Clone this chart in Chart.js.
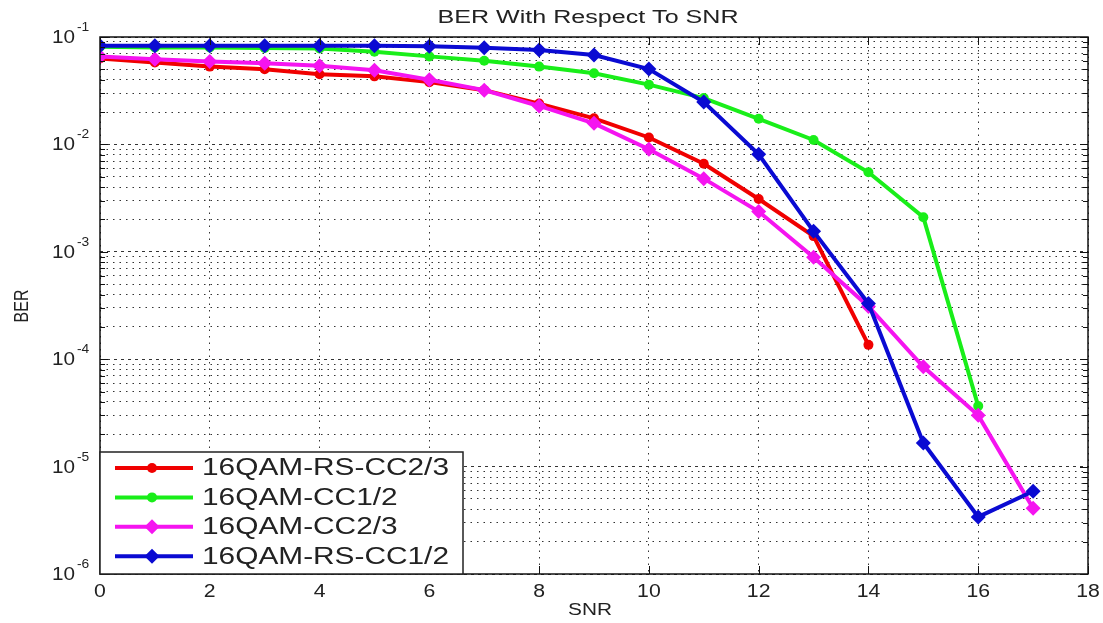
<!DOCTYPE html>
<html>
<head>
<meta charset="utf-8">
<title>BER With Respect To SNR</title>
<script src="https://cdn.jsdelivr.net/npm/chart.js"></script>
<style>
  body { margin: 0; background: #fff; }
  canvas { display: block; }
</style>
</head>
<body>
<canvas id="chart" width="1103" height="623"></canvas>
<script>
// values
const snr = [0, 1, 2, 3, 4, 5, 6, 7, 8, 9, 10, 11, 12, 13, 14, 15, 16, 17];

const rsCC23 = [0.063, 0.058, 0.053, 0.050, 0.045, 0.043, 0.038, 0.032, 0.024, 0.0175, 0.0116, 0.0066, 0.0031, 0.0014, 0.000136];
const cc12 = [0.081, 0.080, 0.080, 0.079, 0.078, 0.073, 0.066, 0.060, 0.053, 0.046, 0.036, 0.027, 0.0173, 0.011, 0.0055, 0.0021, 0.0000366];
const cc23 = [0.066, 0.062, 0.059, 0.057, 0.054, 0.049, 0.040, 0.032, 0.0228, 0.0157, 0.009, 0.0048, 0.00237, 0.00089, 0.00031, 0.000085, 0.00003, 0.0000041];
const rsCC12 = [0.083, 0.083, 0.083, 0.083, 0.083, 0.083, 0.082, 0.0795, 0.0757, 0.068, 0.0503, 0.0248, 0.0081, 0.00155, 0.00033, 0.0000166, 0.0000034, 0.0000059];

const seriesNames = ['16QAM-RS-CC2/3', '16QAM-CC1/2', '16QAM-CC2/3', '16QAM-RS-CC1/2'];

const xTicks = [0, 2, 4, 6, 8, 10, 12, 14, 16, 18];
const yExponents = [-1, -2, -3, -4, -5, -6];

const FONT = '"Liberation Sans", Arial, sans-serif';

function toPoints(values) {
    return values.map((v, i) => ({ x: snr[i], y: v }));
}

// every 1..9 x 10^e value between 1e-6 and 1e-1 (minor grid like matlab)
function logGridTicks() {
    const t = [];
    for (let e = -6; e < -1; e++) {
        for (let m = 1; m < 10; m++) t.push({ value: m * Math.pow(10, e) });
    }
    t.push({ value: 0.1 });
    return t;
}

function isDecade(v) {
    const l = Math.log10(v);
    return Math.abs(l - Math.round(l)) < 1e-9;
}

function stretchText(ctx, text, x, y, sx, align) {
    ctx.save();
    ctx.translate(x, y);
    ctx.scale(sx, 1);
    ctx.textAlign = align;
    ctx.fillText(text, 0, 0);
    ctx.restore();
}

function drawMarker(ctx, style, r, x, y, color) {
    ctx.fillStyle = color;
    ctx.beginPath();
    if (style === 'circle') {
        ctx.arc(x, y, r, 0, Math.PI * 2);
    } else {
        ctx.moveTo(x, y - r);
        ctx.lineTo(x + r, y);
        ctx.lineTo(x, y + r);
        ctx.lineTo(x - r, y);
        ctx.closePath();
    }
    ctx.fill();
}

const matlabLook = {
    id: 'matlabLook',
    beforeDraw(chart) {
        const ctx = chart.ctx;
        ctx.save();
        ctx.fillStyle = '#fff';
        ctx.fillRect(0, 0, chart.width, chart.height);
        ctx.restore();
    },
    afterDraw(chart) {
        const ctx = chart.ctx;
        const a = chart.chartArea;
        const xs = chart.scales.x;
        const ys = chart.scales.y;

        ctx.save();
        ctx.strokeStyle = '#111';
        ctx.lineWidth = 1;

        // inner tick marks
        ctx.beginPath();
        xTicks.forEach(t => {
            const px = Math.round(xs.getPixelForValue(t)) + 0.5;
            ctx.moveTo(px, a.bottom); ctx.lineTo(px, a.bottom - 8);
            ctx.moveTo(px, a.top); ctx.lineTo(px, a.top + 8);
        });
        ys.ticks.forEach(t => {
            const py = Math.round(ys.getPixelForValue(t.value)) + 0.5;
            const len = isDecade(t.value) ? 8 : 5;
            ctx.moveTo(a.left, py); ctx.lineTo(a.left + len, py);
            ctx.moveTo(a.right, py); ctx.lineTo(a.right - len, py);
        });
        ctx.stroke();

        // frame
        ctx.lineWidth = 1.5;
        ctx.strokeRect(a.left, a.top, a.right - a.left, a.bottom - a.top);

        ctx.fillStyle = '#222';
        ctx.textBaseline = 'alphabetic';

        // x tick labels
        ctx.font = '18px ' + FONT;
        xTicks.forEach(t => {
            stretchText(ctx, String(t), xs.getPixelForValue(t), a.bottom + 23, 1.18, 'center');
        });

        // y tick labels 10^e
        yExponents.forEach(e => {
            const py = ys.getPixelForValue(Math.pow(10, e));
            ctx.font = '18px ' + FONT;
            stretchText(ctx, '10', 75, py + 6, 1.15, 'right');
            ctx.font = '12px ' + FONT;
            stretchText(ctx, String(e), 77, py - 6, 1.15, 'left');
        });

        // title
        ctx.font = '18px ' + FONT;
        const title = 'BER With Respect To SNR';
        stretchText(ctx, title, 588, 23, 301 / ctx.measureText(title).width, 'center');

        // axis titles
        ctx.font = '16px ' + FONT;
        stretchText(ctx, 'SNR', 590, 615, 1.3, 'center');
        ctx.save();
        ctx.translate(28, 306);
        ctx.rotate(-Math.PI / 2);
        ctx.scale(1, 1.3);
        ctx.textAlign = 'center';
        ctx.fillText('BER', 0, 0);
        ctx.restore();

        // legend box, lower left inside the axes
        const lx = a.left, ly = 452, lw = 363, lh = a.bottom - 452;
        ctx.fillStyle = '#fff';
        ctx.fillRect(lx, ly, lw, lh);
        ctx.lineWidth = 1.5;
        ctx.strokeStyle = '#222';
        ctx.strokeRect(lx, ly, lw, lh);

        ctx.font = '23px ' + FONT;
        const legSx = 247 / ctx.measureText(seriesNames[0]).width;
        chart.data.datasets.forEach((ds, i) => {
            const ry = 468 + i * 29.4;
            ctx.strokeStyle = ds.borderColor;
            ctx.lineWidth = 4;
            ctx.beginPath();
            ctx.moveTo(lx + 15, ry);
            ctx.lineTo(lx + 93, ry);
            ctx.stroke();
            drawMarker(ctx, ds.pointStyle, ds.pointRadius, lx + 52, ry, ds.borderColor);
            ctx.fillStyle = '#222';
            ctx.textBaseline = 'middle';
            stretchText(ctx, ds.label, lx + 102, ry + 1, legSx, 'left');
        });

        ctx.restore();
    }
};

const ctx = document.getElementById('chart').getContext('2d');

const chart = new Chart(ctx, {
    type: 'line',
    data: {
        datasets: [
            {
                label: seriesNames[0],
                data: toPoints(rsCC23),
                borderColor: '#f00000',
                backgroundColor: '#f00000',
                pointStyle: 'circle',
                pointRadius: 5,
                order: 4
            },
            {
                label: seriesNames[1],
                data: toPoints(cc12),
                borderColor: '#19ee19',
                backgroundColor: '#19ee19',
                pointStyle: 'circle',
                pointRadius: 5,
                order: 3
            },
            {
                label: seriesNames[2],
                data: toPoints(cc23),
                borderColor: '#f514f0',
                backgroundColor: '#f514f0',
                pointStyle: 'rectRot',
                pointRadius: 7.5,
                order: 2
            },
            {
                label: seriesNames[3],
                data: toPoints(rsCC12),
                borderColor: '#0a0ad2',
                backgroundColor: '#0a0ad2',
                pointStyle: 'rectRot',
                pointRadius: 7.5,
                order: 1
            }
        ]
    },
    options: {
        responsive: false,
        animation: false,
        devicePixelRatio: 1,
        layout: {
            padding: { left: 100, right: 15, top: 37, bottom: 49 }
        },
        elements: {
            line: { borderWidth: 4, tension: 0 },
            point: { borderWidth: 0, hoverRadius: 7 }
        },
        plugins: {
            legend: { display: false },
            title: { display: false },
            tooltip: { enabled: false }
        },
        scales: {
            x: {
                type: 'linear',
                min: 0,
                max: 18,
                afterBuildTicks: (scale) => {
                    scale.ticks = xTicks.map(v => ({ value: v }));
                },
                ticks: { display: false },
                grid: { color: '#333', lineWidth: 1, drawTicks: false },
                border: { display: false, dash: [1.5, 5] }
            },
            y: {
                type: 'logarithmic',
                min: 1e-6,
                max: 1e-1,
                afterBuildTicks: (scale) => {
                    scale.ticks = logGridTicks();
                },
                ticks: { display: false },
                grid: { color: '#333', lineWidth: 1, drawTicks: false },
                border: {
                    display: false,
                    dash: (c) => (c.tick && isDecade(c.tick.value)) ? [3, 4] : [1.5, 5]
                }
            }
        }
    },
    plugins: [matlabLook]
});
</script>
</body>
</html>
